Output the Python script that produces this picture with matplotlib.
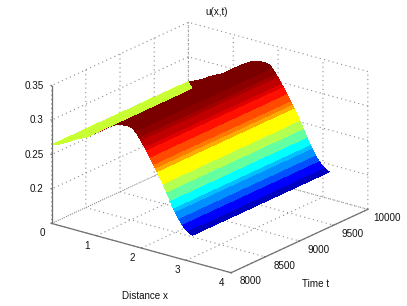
import numpy as np
import matplotlib
matplotlib.use("Agg")
import matplotlib.pyplot as plt
from matplotlib.colors import BoundaryNorm, ListedColormap, to_rgba

plt.rcParams["font.family"] = ["Liberation Sans", "DejaVu Sans"]
plt.rcParams["font.size"] = 7.1

DIST_X = [0.00, 0.17, 0.33, 0.46, 0.60, 0.77, 0.84, 0.95, 1.07, 1.20, 1.30, 1.40,
          1.50, 1.60, 1.70, 1.80, 1.88, 1.92, 1.96, 2.00, 2.04, 2.08, 2.12, 2.16,
          2.20, 2.24, 2.28, 2.32, 2.36, 2.40, 2.44, 2.48, 2.52, 2.56, 2.60, 2.64,
          2.68, 2.72, 2.76, 2.80, 2.84, 2.88, 2.92, 2.96, 3.00, 3.04, 3.09, 3.14]
U_VALUES = [0.2640, 0.2680, 0.2735, 0.2790, 0.2840, 0.2890, 0.2926, 0.2980, 0.3030,
            0.3100, 0.3140, 0.3180, 0.3200, 0.3215, 0.3220, 0.3207, 0.3160, 0.3125,
            0.3090, 0.3050, 0.3010, 0.2970, 0.2930, 0.2885, 0.2840, 0.2795, 0.2750,
            0.2705, 0.2660, 0.2615, 0.2570, 0.2520, 0.2470, 0.2415, 0.2360, 0.2305,
            0.2245, 0.2195, 0.2150, 0.2105, 0.2065, 0.2030, 0.1995, 0.1965, 0.1940,
            0.1920, 0.1900, 0.1890]
TIME_T = [8000, 10000]

X_TICKS = [0, 1, 2, 3, 4]
T_TICKS = [8000, 8500, 9000, 9500, 10000]
Z_TICKS = [0.15, 0.2, 0.25, 0.3, 0.35]
Z_LABELS = ["", "0.2", "0.25", "0.3", "0.35"]

# colour bands of the surface, low to high
BAND_COLORS = ["#0000c0", "#0000ff", "#0050ff", "#0090ff", "#00c0ff", "#00ffff",
               "#64ffa0", "#b4ff50", "#ffff00", "#ffaa00", "#ff7a00", "#ff4a00",
               "#ff1000", "#e00000", "#c00000", "#a50000", "#8c0000", "#7a0000"]
BAND_EDGES = [0.18, 0.193, 0.200, 0.207, 0.214, 0.2215, 0.230, 0.243, 0.2518, 0.2644,
              0.270, 0.277, 0.284, 0.291, 0.298, 0.304, 0.310, 0.316, 0.33]

RIDGE_X = 1.40
STRIP_END = 0.77
STRIP_FAR_T = 9544
WEDGE_T = 8700
STRIP_COLOR = "#c8ff32"
TEXT_COLOR = "#111111"


def draw_surface(ax, x, u, t_far, colors, order):
    X = np.vstack([x, x])
    T = np.vstack([np.full_like(x, TIME_T[0], dtype=float), t_far])
    Z = np.vstack([u, u])
    faces = np.array([colors, colors])
    ax.plot_surface(X, T, Z, facecolors=faces, rstride=1, cstride=1, shade=False,
                    linewidth=0, antialiased=False, zorder=order)


def main():
    x = np.array(DIST_X)
    u = np.array(U_VALUES)

    fig = plt.figure(figsize=(4.07, 3.06), dpi=100)
    ax = fig.add_axes([52.6 / 407, 1.37 / 306, 306 / 407, 1.0], projection="3d")
    ax.set_proj_type("ortho")
    ax.view_init(elev=20.9, azim=-52.4)
    ax.set_box_aspect((225.3, 223, 146.7), zoom=1.114)
    ax.computed_zorder = False
    ax.patch.set_alpha(0)

    cmap = ListedColormap(BAND_COLORS)
    norm = BoundaryNorm(BAND_EDGES, cmap.N)
    # a face takes the colour of its left vertex, so colour by the facet middle
    mids = np.append((u[:-1] + u[1:]) / 2, u[-1])
    colors = cmap(norm(mids))

    # back side of the rising part shows up dark
    base_colors = colors.copy()
    base_colors[x < RIDGE_X] = to_rgba(BAND_COLORS[-1])
    draw_surface(ax, x, u, np.full_like(x, TIME_T[1], dtype=float), base_colors, 1)

    # orange wedge next to the t = 8000 edge
    in_wedge = (x >= STRIP_END) & (x <= RIDGE_X)
    draw_surface(ax, x[in_wedge], u[in_wedge], np.full(in_wedge.sum(), float(WEDGE_T)),
                 colors[in_wedge], 1.5)

    # thin light green strip along x = 0
    n_strip = np.searchsorted(x, STRIP_END) + 1
    x_strip = x[:n_strip]
    far_strip = TIME_T[1] + (STRIP_FAR_T - TIME_T[1]) * x_strip / STRIP_END
    strip_colors = np.array([to_rgba(STRIP_COLOR)] * n_strip)
    draw_surface(ax, x_strip, u[:n_strip], far_strip, strip_colors, 2)

    ax.set_xlim(0, 4)
    ax.set_ylim(8000, 10000)
    ax.set_zlim(0.15, 0.35)
    ax.set_xticks(X_TICKS)
    ax.set_yticks(T_TICKS)
    ax.set_zticks(Z_TICKS)
    ax.set_xticklabels([])
    ax.set_yticklabels([])
    ax.set_zticklabels([])
    ax.zaxis._axinfo["juggled"] = (1, 2, 0)

    for axis in [ax.xaxis, ax.yaxis, ax.zaxis]:
        axis.pane.set_fill(False)
        axis.pane.set_edgecolor("none")
        axis.line.set_color("#707070")
        axis.line.set_linewidth(0.9)
        axis._axinfo["grid"].update(color="#8c8c8c", linestyle=(0, (1, 3)), linewidth=0.8)
        axis._axinfo["tick"].update(inward_factor=0.0, outward_factor=0.05)
        axis.set_tick_params(width=0.7, color="#707070")

    for val in X_TICKS:
        ax.text(val, 8000 - 132, 0.15 - 0.0085, str(val), ha="center", va="center",
                color=TEXT_COLOR, zorder=5)
    for val in T_TICKS:
        ax.text(4 + 0.43, val, 0.15 - 0.005, str(val), ha="center", va="center",
                color=TEXT_COLOR, zorder=5)
    for val, label in zip(Z_TICKS, Z_LABELS):
        ax.text(-0.113, 8000 - 44, val, label, ha="right", va="center",
                color=TEXT_COLOR, zorder=5)

    fig.text(145 / 407, 1 - 296 / 306, "Distance x", ha="center", va="center", color=TEXT_COLOR)
    fig.text(316 / 407, 1 - 284 / 306, "Time t", ha="center", va="center", color=TEXT_COLOR)
    fig.text(217 / 407, 1 - 12 / 306, "u(x,t)", ha="center", va="center", color=TEXT_COLOR)

    fig.savefig("out.png", dpi=100)


if __name__ == "__main__":
    main()
